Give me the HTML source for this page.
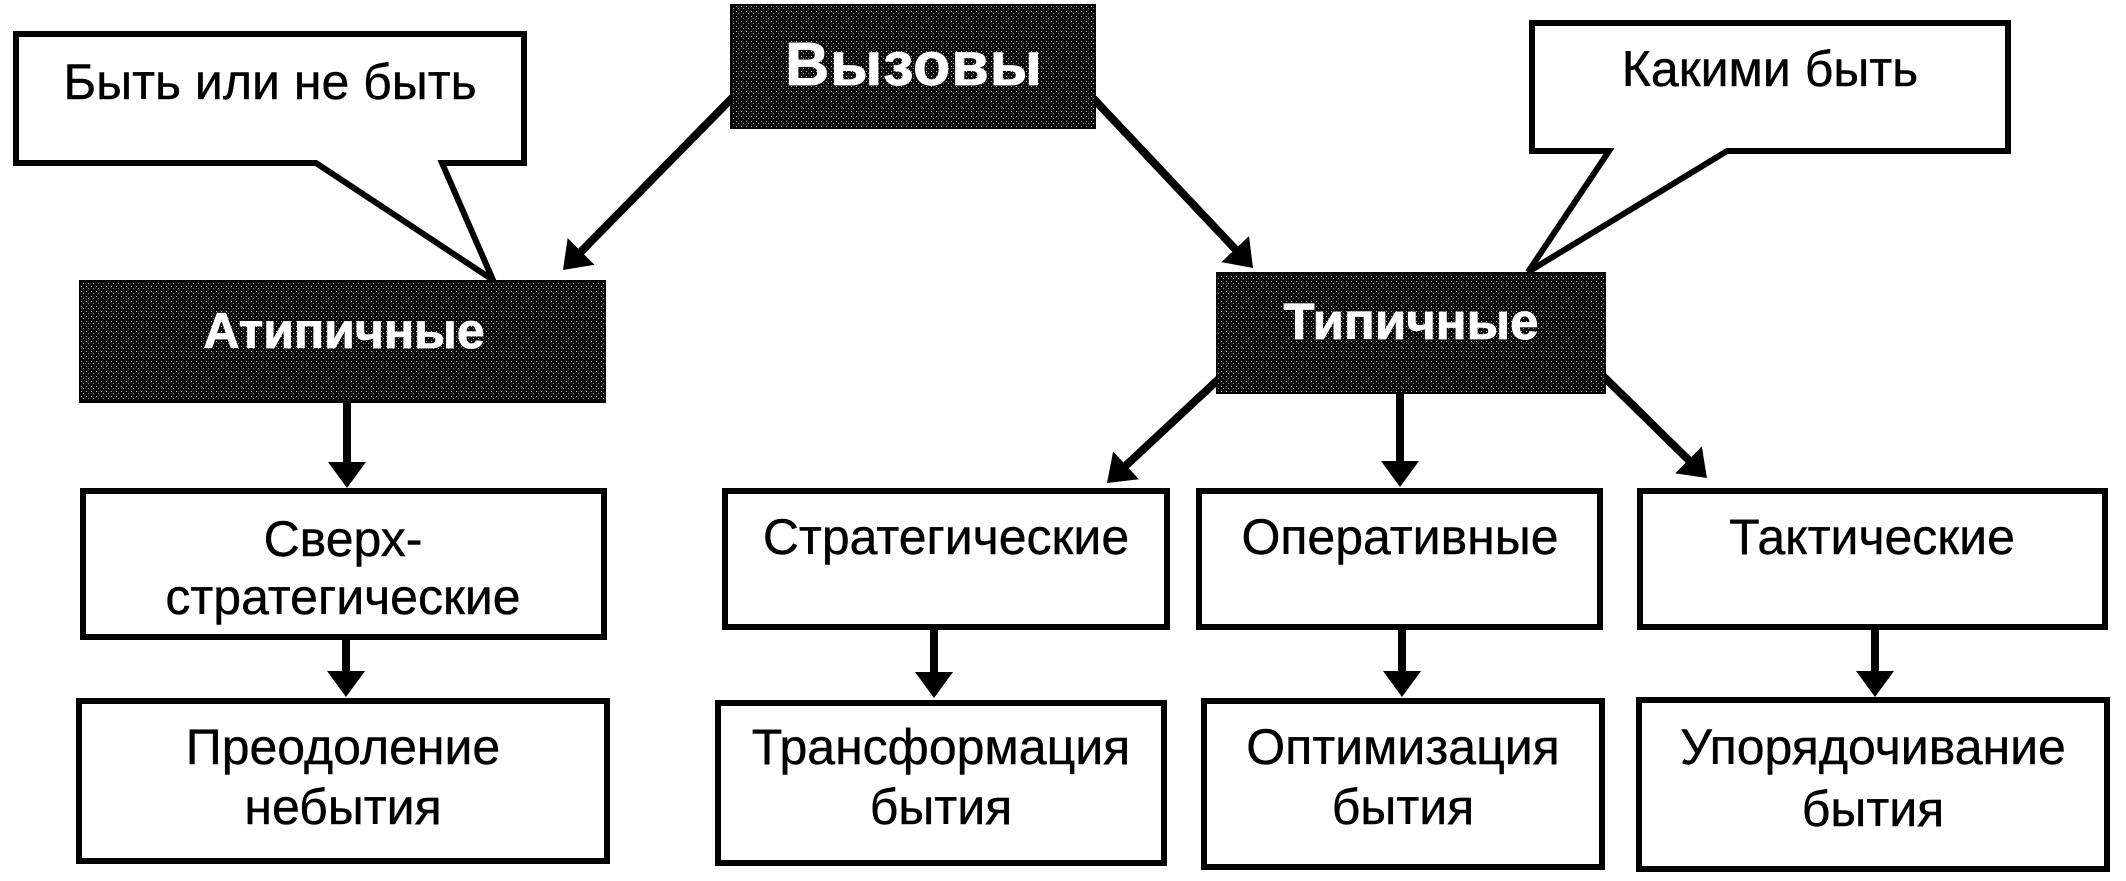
<!DOCTYPE html>
<html>
<head>
<meta charset="utf-8">
<style>
  html, body { margin: 0; padding: 0; background: #ffffff; }
  svg { display: block; }
  .t { font-family: "Liberation Sans", Arial, sans-serif; font-size: 50px; fill: #000; text-anchor: middle; stroke: #000; stroke-width: 0.4px; }
  .b { font-family: "Liberation Sans", Arial, sans-serif; font-weight: bold; fill: #fff; text-anchor: middle; stroke: #fff; stroke-width: 0.8px; }
</style>
</head>
<body>
<svg width="2126" height="881" viewBox="0 0 2126 881" xmlns="http://www.w3.org/2000/svg">
  <defs>
    <pattern id="stip" width="5" height="5" patternUnits="userSpaceOnUse">
      <rect width="5" height="5" fill="#0c0c0c"/>
      <rect x="1" y="1" width="1" height="1" fill="#b0b0b0"/>
      <rect x="3" y="3" width="1" height="1" fill="#8a8a8a"/>
    </pattern>
    <marker id="ah" markerUnits="userSpaceOnUse" markerWidth="26" markerHeight="38" refX="12" refY="19" orient="auto">
      <path d="M0,0 L26,19 L0,38 Z" fill="#000"/>
    </marker>
  </defs>

  <!-- Callouts -->
  <path d="M16,34 H524 V163 H442 L493,280 L316,163 H16 Z" fill="#fff" stroke="#000" stroke-width="6" stroke-linejoin="miter"/>
  <text class="t" x="270" y="99">Быть или не быть</text>

  <path d="M1532,23 H2008 V151 H1727 L1528,272 L1609,151 H1532 Z" fill="#fff" stroke="#000" stroke-width="6" stroke-linejoin="miter"/>
  <text class="t" x="1770" y="86">Какими быть</text>

  <!-- Connectors -->
  <g stroke="#000" stroke-width="8" fill="none" marker-end="url(#ah)">
    <line x1="735" y1="95" x2="572.8" y2="260"/>
    <line x1="1090" y1="95" x2="1243.4" y2="257.8"/>
    <line x1="347" y1="400" x2="347" y2="474"/>
    <line x1="346" y1="638" x2="346" y2="683"/>
    <line x1="1222" y1="376" x2="1117.3" y2="473.5"/>
    <line x1="1400" y1="391" x2="1400" y2="473"/>
    <line x1="1600" y1="373" x2="1697" y2="468.2"/>
    <line x1="934" y1="628" x2="934" y2="684"/>
    <line x1="1402" y1="628" x2="1402" y2="683"/>
    <line x1="1875" y1="628" x2="1875" y2="683"/>
  </g>

  <!-- Dark boxes -->
  <rect x="731" y="5" width="364" height="123" fill="url(#stip)" stroke="#000" stroke-width="2"/>
  <text class="b" x="914" y="85" style="font-size:61px; letter-spacing:1px;">Вызовы</text>

  <rect x="80" y="281" width="525" height="121" fill="url(#stip)" stroke="#000" stroke-width="2"/>
  <text class="b" x="344" y="348" style="font-size:50px;">Атипичные</text>

  <rect x="1217" y="273" width="388" height="120" fill="url(#stip)" stroke="#000" stroke-width="2"/>
  <text class="b" x="1411" y="339" style="font-size:51px;">Типичные</text>

  <!-- Row 2 boxes -->
  <g fill="#fff" stroke="#000" stroke-width="6">
    <rect x="83" y="491" width="521" height="146"/>
    <rect x="725" y="491" width="442" height="136"/>
    <rect x="1199" y="491" width="401" height="136"/>
    <rect x="1640" y="491" width="465" height="136"/>
  </g>
  <text class="t" x="343" y="556">Сверх-</text>
  <text class="t" x="343" y="614">стратегические</text>
  <text class="t" x="946" y="554">Стратегические</text>
  <text class="t" x="1400" y="554">Оперативные</text>
  <text class="t" x="1872" y="554">Тактические</text>

  <!-- Row 3 boxes -->
  <g fill="#fff" stroke="#000" stroke-width="6">
    <rect x="79" y="701" width="528" height="160"/>
    <rect x="718" y="703" width="446" height="160"/>
    <rect x="1204" y="701" width="398" height="166"/>
    <rect x="1639" y="700" width="468" height="169"/>
  </g>
  <text class="t" x="343" y="764">Преодоление</text>
  <text class="t" x="343" y="824">небытия</text>
  <text class="t" x="941" y="764">Трансформация</text>
  <text class="t" x="941" y="824">бытия</text>
  <text class="t" x="1403" y="764">Оптимизация</text>
  <text class="t" x="1403" y="824">бытия</text>
  <text class="t" x="1873" y="764">Упорядочивание</text>
  <text class="t" x="1873" y="826">бытия</text>
</svg>
</body>
</html>
